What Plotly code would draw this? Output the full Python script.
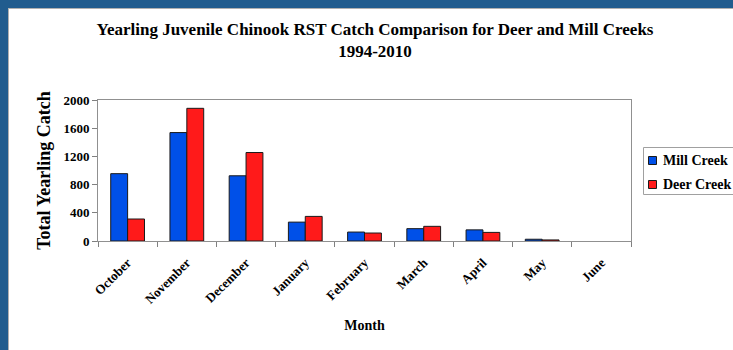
import plotly.graph_objects as go

months = ["October", "November", "December", "January", "February", "March", "April", "May", "June"]
mill_creek = [955, 1538, 925, 268, 127, 175, 158, 25, 0]
deer_creek = [312, 1882, 1255, 349, 113, 208, 122, 15, 0]
y_ticks = [0, 400, 800, 1200, 1600, 2000]

series = [("Mill Creek", mill_creek, "#0050E8"), ("Deer Creek", deer_creek, "#FF1A1A")]

W, H = 733, 350
L, R, T, B = 98, 631, 100, 241
FRAME = "#215C8E"
font_serif = "Liberation Serif, Times New Roman, serif"


def px_x(p):
    return (p - L) / (R - L)


def px_y(p):
    return (B - p) / (B - T)


fig = go.Figure()
for name, vals, col in series:
    fig.add_trace(go.Bar(
        x=months, y=vals, name=name, showlegend=False,
        marker=dict(color=col, line=dict(color="#1a1a1a", width=[1 if v > 0 else 0 for v in vals])),
    ))

shapes = [
    # white page inside the blue window frame (frame = paper background)
    dict(type="rect", xref="paper", yref="paper", x0=px_x(8), x1=px_x(W + 20), y0=px_y(H + 20), y1=px_y(8),
         fillcolor="white", line=dict(width=0), layer="below"),
    dict(type="line", xref="paper", yref="paper", x0=px_x(8.5), x1=px_x(8.5), y0=px_y(H + 20), y1=px_y(8),
         line=dict(color="#b0b0b0", width=1), layer="below"),
    dict(type="line", xref="paper", yref="paper", x0=px_x(8), x1=px_x(W + 20), y0=px_y(8.5), y1=px_y(8.5),
         line=dict(color="#b0b0b0", width=1), layer="below"),
    # legend box
    dict(type="rect", xref="paper", yref="paper", x0=px_x(643.5), x1=px_x(W + 10), y0=px_y(194.5), y1=px_y(147.5),
         fillcolor="white", line=dict(color="#a0a0a0", width=1)),
]
annotations = []
for i, (name, vals, col) in enumerate(series):
    cy = 160.5 + i * 24
    shapes.append(dict(type="rect", xref="paper", yref="paper",
                       x0=px_x(648.5), x1=px_x(656.5), y0=px_y(cy + 4), y1=px_y(cy - 4),
                       fillcolor=col, line=dict(color="#1a1a1a", width=1)))
    annotations.append(dict(text=f"<b>{name}</b>", xref="paper", yref="paper",
                            x=px_x(661), y=px_y(cy), xanchor="left", yanchor="middle", showarrow=False,
                            font=dict(family=font_serif, size=14, color="black")))

fig.update_layout(
    width=W, height=H,
    margin=dict(l=L, r=W - R, t=T, b=H - B, autoexpand=False),
    paper_bgcolor=FRAME, plot_bgcolor="white",
    barmode="group", bargap=0.43, bargroupgap=0,
    showlegend=False,
    title=dict(text="<b>Yearling Juvenile Chinook RST Catch Comparison for Deer and Mill Creeks<br>1994-2010</b>",
               x=px_x(375), xref="paper", xanchor="center", y=1 - 35 / H, yanchor="top",
               font=dict(family=font_serif, size=17, color="black")),
    font=dict(family=font_serif, color="black"),
    xaxis=dict(
        tickangle=-45, tickson="boundaries", ticks="outside", ticklen=5, tickcolor="#808080",
        showline=True, linecolor="#909090", linewidth=1, mirror=True, ticklabelstandoff=8,
        tickfont=dict(family=font_serif, size=13, color="black", weight="bold"),
        title=dict(text="<b>Month</b>", font=dict(family=font_serif, size=14, color="black"), standoff=14),
    ),
    yaxis=dict(
        range=[0, 2000], tickvals=y_ticks, ticks="outside", ticklen=5, tickcolor="#808080",
        showline=True, linecolor="#909090", linewidth=1, mirror=True, showgrid=False, zeroline=False,
        tickfont=dict(family=font_serif, size=13, color="black", weight="bold"),
        title=dict(text="<b>Total Yearling Catch</b>", font=dict(family=font_serif, size=18, color="black"), standoff=8),
    ),
    shapes=shapes,
    annotations=annotations,
)

fig.write_html("out.html", config={"displayModeBar": False})
